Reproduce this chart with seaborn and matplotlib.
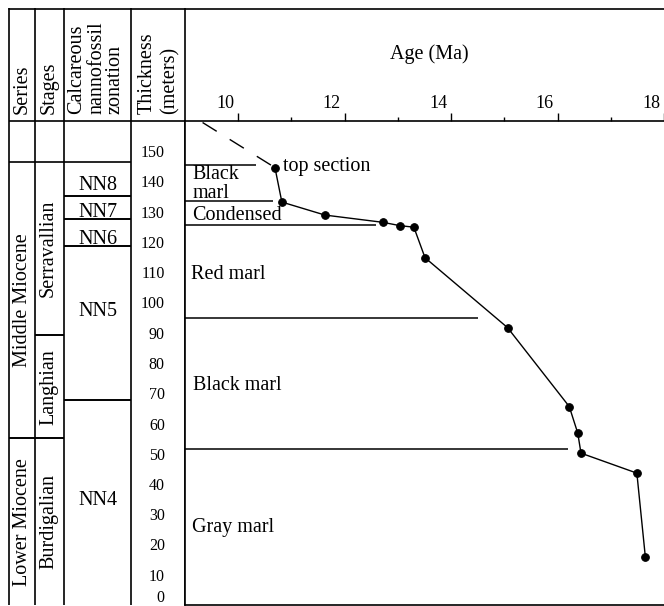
import matplotlib
matplotlib.use("Agg")
import matplotlib.pyplot as plt
import matplotlib.transforms as mtransforms
from matplotlib.lines import Line2D
import seaborn as sns

# ---------------- data ----------------
age_ma = [10.69, 10.82, 11.63, 12.72, 13.04, 13.30, 13.51, 15.06, 16.22, 16.38, 16.44, 17.49, 17.65]
thickness_m = [144.6, 133.2, 128.9, 126.5, 125.4, 124.9, 114.8, 91.7, 65.6, 56.8, 50.2, 43.6, 15.8]
extrap_age = [9.33, 10.69]
extrap_thick = [159.5, 144.6]

lith_boundary_m = [145.6, 133.4, 125.7, 94.9, 51.6]
lith_boundary_end_ma = [10.34, 10.65, 12.58, 14.50, 16.20]
lith_labels = ["Black\nmarl", "Condensed", "Red marl", "Black marl", "Gray marl"]
lith_label_m = [134.7, 127.4, 107.9, 71.1, 24.1]
lith_label_ma = [9.14, 9.14, 9.11, 9.15, 9.14]
top_label = "top section"
top_label_pos = (10.835, 143.5)

series_names = ["Middle Miocene", "Lower Miocene"]
series_bounds = [(55.1, 146.5), (0.0, 55.1)]
stage_names = ["Serravallian", "Langhian", "Burdigalian"]
stage_bounds = [(89.1, 146.5), (55.1, 89.1), (0.0, 55.1)]
zone_names = ["NN8", "NN7", "NN6", "NN5", "NN4"]
zone_bounds = [(135.3, 146.5), (127.5, 135.3), (118.6, 127.5), (67.9, 118.6), (0.0, 67.9)]
zone_label_m = [137.1, 128.3, 119.5, 95.4, 33.0]

age_ticks = [10, 12, 14, 16, 18]
age_minor = [11, 13, 15, 17]
thick_ticks = list(range(0, 151, 10))
thick_minor = list(range(5, 160, 10))

# ---------------- style ----------------
sns.set_style("white")
plt.rcParams["font.family"] = ["Liberation Serif", "DejaVu Serif"]
plt.rcParams["text.color"] = "black"
plt.rcParams["xtick.color"] = "black"
plt.rcParams["ytick.color"] = "black"
plt.rcParams["axes.edgecolor"] = "black"
FS = 14.5
LW = 1.2

W, H = 664, 606
fig = plt.figure(figsize=(W / 100, H / 100), dpi=100)

# ---------------- left stratigraphic columns ----------------
ytop_units = 597 / 3.025
lax = fig.add_axes([9 / W, 1 / H, 176 / W, 597 / H])
lax.set_xlim(9, 185)
lax.set_ylim(0, ytop_units)
lax.axis("off")

col_edges = [9, 35, 64, 131, 185]
lax.vlines(col_edges, 0, ytop_units, color="black", lw=LW, clip_on=False)
lax.hlines(160, 9, 185, color="black", lw=LW, clip_on=False)

def draw_col(bounds, x0, x1):
    for lo, hi in bounds:
        lax.hlines(hi, x0, x1, color="black", lw=LW)
        if lo > 0:
            lax.hlines(lo, x0, x1, color="black", lw=LW)

draw_col(series_bounds, 9, 35)
draw_col(stage_bounds, 35, 64)
draw_col(zone_bounds, 64, 131)

hdr_y = (605 - 114) / 3.025
lax.text(22, hdr_y, "Series", rotation=90, ha="center", va="bottom", fontsize=FS)
lax.text(49, hdr_y, "Stages", rotation=90, ha="center", va="bottom", fontsize=FS)
for x, t in zip([77, 96.5, 115], ["Calcareous", "nannofossil", "zonation"]):
    lax.text(x, hdr_y, t, rotation=90, ha="center", va="bottom", fontsize=FS)
for x, t in zip([147, 169.5], ["Thickness", "(meters)"]):
    lax.text(x, hdr_y, t, rotation=90, ha="center", va="bottom", fontsize=FS)

for name, (lo, hi) in zip(series_names, series_bounds):
    lax.text(23, (lo + hi) / 2, name, rotation=90, ha="center", va="center", fontsize=FS)
for name, (lo, hi) in zip(stage_names, stage_bounds):
    lax.text(48.5, (lo + hi) / 2, name, rotation=90, ha="center", va="center", fontsize=FS)
for name, ym in zip(zone_names, zone_label_m):
    lax.text(97.5, ym, name, ha="center", va="baseline", fontsize=FS)

# top border
fig.add_artist(Line2D([9 / W, 1.0], [1 - 8.5 / H, 1 - 8.5 / H], color="black", lw=LW))

# ---------------- main age-thickness plot ----------------
ax = fig.add_axes([185 / W, 1 / H, 479 / W, 484 / H])
sns.lineplot(x=extrap_age, y=extrap_thick, ax=ax, color="black", lw=1.0,
             linestyle=(0, (12, 11)), sort=False, estimator=None)
sns.lineplot(x=age_ma, y=thickness_m, ax=ax, color="black", lw=1.0, sort=False,
             estimator=None, marker="o", markersize=5.5,
             markerfacecolor="black", markeredgecolor="black")
ax.hlines(lith_boundary_m, 9, lith_boundary_end_ma, color="black", lw=1.1)

for t, xm, ym in zip(lith_labels, lith_label_ma, lith_label_m):
    ax.text(xm, ym, t, ha="left", va="baseline", fontsize=FS, linespacing=0.95)
ax.text(top_label_pos[0], top_label_pos[1], top_label, ha="left", va="baseline", fontsize=FS)

ax.set_xlim(9, 17.97)
ax.set_ylim(0, 160)
ax.set_xlabel("")
ax.set_ylabel("")
ax.spines["right"].set_visible(False)
ax.spines["top"].set_visible(False)
for s in ["left", "bottom"]:
    ax.spines[s].set_linewidth(LW)
    ax.spines[s].set_color("black")

ax.set_xticks(age_ticks)
ax.set_xticks(age_minor, minor=True)
ax.tick_params(axis="x", which="major", direction="in", length=6.5, width=1, labelbottom=False)
ax.tick_params(axis="x", which="minor", direction="in", length=2.2, width=1)

ax.set_yticks(thick_ticks)
ax.set_yticks(thick_minor, minor=True)
ax.tick_params(axis="y", which="major", direction="out", length=7.5, width=1, pad=7, labelsize=11.5)
ax.tick_params(axis="y", which="minor", direction="out", length=3, width=1)
# lift the "0" label so it stays inside the figure, as in the reference
lift = mtransforms.ScaledTranslation(0, 9 / 100, fig.dpi_scale_trans)
ylabs = ax.get_yticklabels()
ylabs[0].set_transform(ylabs[0].get_transform() + lift)

sec = ax.secondary_xaxis("top")
sec.set_xticks(age_ticks)
sec.set_xticks(age_minor, minor=True)
sec.tick_params(which="major", direction="out", length=5.5, width=1, pad=1, labelsize=13)
sec.tick_params(which="minor", direction="out", length=2.7, width=1)
sec.spines["top"].set_linewidth(LW)
sec.spines["top"].set_color("black")
offset = mtransforms.ScaledTranslation(-4 / 100, 0, fig.dpi_scale_trans)
for lab in sec.get_xticklabels():
    lab.set_ha("right")
    lab.set_transform(lab.get_transform() + offset)

ax.text((429 - 185) / 479, (605 - 54) / 484, "Age (Ma)", transform=ax.transAxes,
        ha="center", va="center", fontsize=FS)

fig.savefig("out.png", dpi=100)
